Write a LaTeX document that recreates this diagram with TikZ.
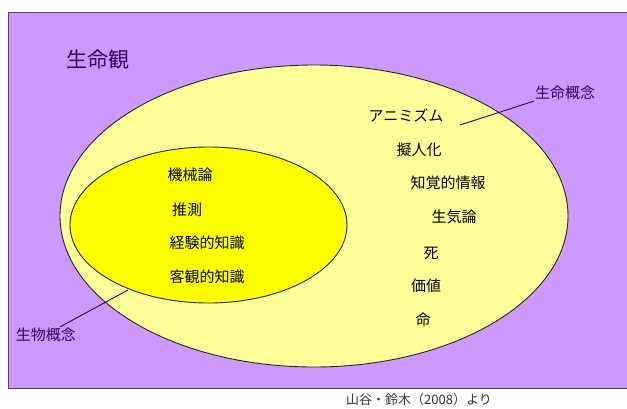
\documentclass[tikz,border=0pt]{standalone}
\usepackage{fontspec}
\setmainfont{Noto Sans CJK JP}
\usetikzlibrary{shapes.geometric}
\definecolor{lav}{HTML}{CC99FF}
\definecolor{lyel}{HTML}{FFFF99}
\definecolor{yel}{HTML}{FFFF00}
\definecolor{navy}{HTML}{330066}
\begin{document}
\begin{tikzpicture}[x=1pt,y=-1pt,
  lbl/.style={inner sep=1pt, font=\fontsize{15}{15}\selectfont, text=black},
  note/.style={inner sep=1pt, font=\fontsize{15}{15}\selectfont, text=navy},
  conn/.style={draw=navy, line width=0.9pt},
  oval/.style={ellipse, draw=black!85, line width=0.9pt, inner sep=0pt}]
\useasboundingbox (0,0) rectangle (627,408);
\fill[white] (0,0) rectangle (627,408);
\node[draw=black!70, fill=lav, line width=1pt, minimum width=622pt, minimum height=376pt, inner sep=0pt, anchor=north west] (frame) at (8,12) {};
\node[oval, fill=lyel, minimum width=508pt, minimum height=302pt] (outer) at (314,216) {};
\node[oval, fill=yel, minimum width=277pt, minimum height=156pt] (inner) at (208.5,225) {};
\node[note, font=\fontsize{21}{21}\selectfont] (view) at (98,60) {生命観};
\node[lbl] (m1) at (190,175) {機械論};
\node[lbl] (m2) at (187,210) {推測};
\node[lbl] (m3) at (207,243) {経験的知識};
\node[lbl] (m4) at (207,277) {客観的知識};
\node[lbl] (a1) at (406,115) {アニミズム};
\node[lbl] (a2) at (419,150) {擬人化};
\node[lbl] (a3) at (448,183) {知覚的情報};
\node[lbl] (a4) at (454,217) {生気論};
\node[lbl] (a5) at (431,253) {死};
\node[lbl] (a6) at (426,286) {価値};
\node[lbl] (a7) at (423,320) {命};
\node[note] (life) at (565,93) {生命概念};
\node[note] (bio) at (46,335) {生物概念};
\coordinate (lifeEnd) at (460,125);
\coordinate (bioEnd) at (128,290);
\draw[conn] (life.south west) -- (lifeEnd);
\draw[conn] ([xshift=14pt]bio.north) -- (bioEnd);
\node[inner sep=0pt, font=\fontsize{13}{13}\selectfont, text=black!80] (src) at (419,400) {山谷・鈴木（2008）より};
\end{tikzpicture}
\end{document}
